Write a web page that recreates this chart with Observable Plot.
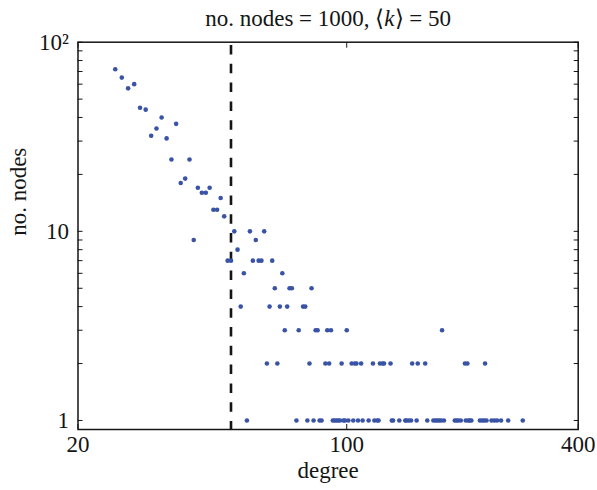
<!DOCTYPE html>
<html><head><meta charset="utf-8">
<script src="https://cdn.jsdelivr.net/npm/d3@7"></script>
<script src="https://cdn.jsdelivr.net/npm/@observablehq/plot@0.6"></script>
<style>
body{margin:0;background:#fff}
#chart svg, #chart svg text {font-family: "Liberation Serif", "Times New Roman", Times, serif !important;}
</style>
</head><body><div id="chart"></div>
<script>
const numNodes = 1000;
const meanK = 50;
const degrees = [25,26,27,28,29,30,31,32,33,34,35,36,37,38,39,40,41,42,43,44,45,46,47,48,49,50,51,52,53,54,55,56,57,58,59,60,61,62,63,64,65,66,67,68,69,70,71,72,74,75,77,78,79,80,81,82,83,84,85,86,88,89,90,91,92,93,94,95,96,97,98,99,100,101,103,104,105,106,107,109,110,114,117,118,120,121,122,124,125,130,131,132,137,142,143,145,147,148,152,153,160,162,168,170,172,174,176,177,179,191,193,195,198,203,204,206,207,209,211,222,225,228,229,231,238,242,246,252,263,287];
const counts  = [72,65,57,60,45,44,32,35,40,31,24,37,18,19,24,9,17,16,16,17,13,13,15,12,7,7,10,8,4,6,1,10,7,9,7,7,10,2,4,7,5,2,4,6,3,4,5,5,1,3,4,4,1,2,5,1,3,3,1,1,2,3,2,3,1,1,1,1,1,2,1,1,3,1,2,1,2,2,1,2,1,1,2,1,1,1,2,2,2,2,1,1,1,1,1,1,1,2,1,2,2,1,1,1,1,1,1,3,1,1,1,1,1,2,1,2,1,1,1,1,1,1,2,1,1,1,1,1,1,1];
const xTicks = [20, 100, 400];
const yMajor = [1, 10, 100];
const yMinor = [2,3,4,5,6,7,8,9,20,30,40,50,60,70,80,90];
const yLabels = {1: "1", 10: "10", 100: "10²"};

const data = degrees.map((d, i) => ({degree: d, count: counts[i]}));
const font = "Liberation Serif";
const ink = "#151515";

const chart = Plot.plot({
  width: 597, height: 490,
  marginLeft: 77.5, marginRight: 19.3, marginTop: 41.7, marginBottom: 61,
  style: {fontFamily: font, fontSize: "22px", background: "white", color: ink},
  x: {type: "log", domain: [20, 400]},
  y: {type: "log", domain: [0.896, 100]},
  marks: [
    Plot.axisX({ticks: xTicks, tickSize: 0, tickPadding: 6, tickFormat: d => String(d), fontSize: 23, fontFamily: font, label: null}),
    Plot.axisX({anchor: "bottom", ticks: xTicks, tickSize: -5, text: null, label: null, stroke: ink}),
    Plot.axisX({anchor: "top", ticks: xTicks, tickSize: -5, text: null, label: null, stroke: ink}),
    Plot.axisY({ticks: yMajor, tickSize: 0, tickPadding: 9, tickFormat: d => yLabels[d], fontSize: 23, fontFamily: font, label: null}),
    Plot.axisY({anchor: "left", ticks: yMajor.concat(yMinor), tickSize: -5, text: null, label: null, stroke: ink}),
    Plot.axisY({anchor: "right", ticks: yMajor.concat(yMinor), tickSize: -5, text: null, label: null, stroke: ink}),
    Plot.frame({stroke: ink, strokeWidth: 1.5}),
    Plot.ruleX([meanK], {stroke: ink, strokeWidth: 2.6, strokeDasharray: "9.5,9.3", strokeDashoffset: 15.5}),
    Plot.dot(data, {x: "degree", y: "count", r: 2.3, fill: "#3953a6", stroke: null}),
    Plot.text(["degree"], {frameAnchor: "bottom", lineAnchor: "middle", dy: 41, fontSize: 23, fontFamily: font}),
    Plot.text(["no. nodes"], {frameAnchor: "left", lineAnchor: "middle", dx: -59, rotate: -90, fontSize: 23, fontFamily: font}),
    Plot.text([`no. nodes = ${numNodes}, ⟨k⟩ = ${meanK}`], {frameAnchor: "top", lineAnchor: "middle", dy: -24, fontSize: 23, fontFamily: font})
  ]
});
document.getElementById("chart").appendChild(chart);

// italic k in the title
d3.select(chart).selectAll("text").each(function() {
  const t = this.textContent;
  if (t.startsWith("no. nodes =")) {
    const sel = d3.select(this);
    sel.text(null);
    sel.append("tspan").text(`no. nodes = ${numNodes}, ⟨`);
    sel.append("tspan").attr("font-style", "italic").text("k");
    sel.append("tspan").text(`⟩ = ${meanK}`);
  }
});
</script>
</body></html>
